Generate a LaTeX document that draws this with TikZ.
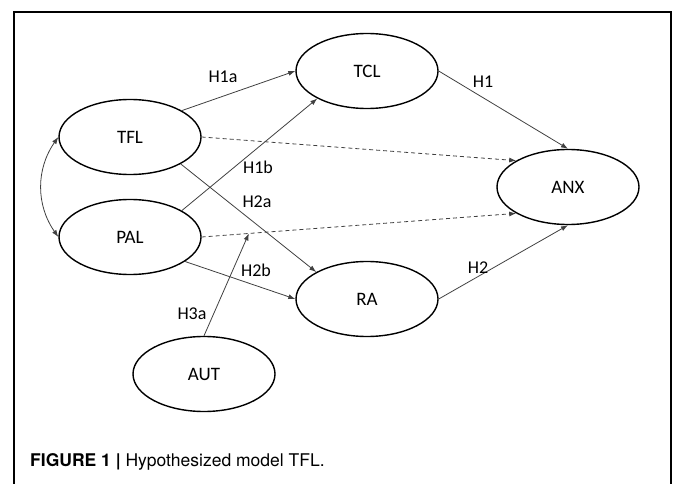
\documentclass[tikz,border=0pt]{standalone}
\usepackage{fontspec}
\setmainfont{Carlito}
\newfontfamily\capfont{TeX Gyre Heros}
\usetikzlibrary{arrows.meta, shapes.geometric}

\tikzset{
    latent/.style={ellipse, draw, line width=1.4pt, minimum width=142pt, minimum height=75pt,
        inner sep=0pt, font=\fontsize{19}{22}\selectfont},
    effect/.style={draw=black!75, line width=0.8pt, ->},
    hlabel/.style={inner sep=0pt, font=\fontsize{18}{21}\selectfont}
}

\begin{document}
\begin{tikzpicture}[x=1pt, y=-1pt, >={Latex[length=7pt,width=5pt]}]
    \useasboundingbox (0,0) rectangle (673,484);

    % Frame
    \draw[line width=1.3pt] (14,484) -- (14,12) -- (671,12) -- (671,484);

    % Draw latent variables
    \foreach \n/\x/\y in {TFL/130/137, PAL/130/237, TCL/367/71, ANX/568/187, RA/367/299, AUT/204/374}
        \node[latent] (\n) at (\x,\y) {\n};

    % Direct paths
    \draw[effect] (TFL.27) -- (TCL.west);
    \draw[effect] (PAL.27) -- (TCL.209);
    \draw[effect] (TFL.332) -- (RA.152);
    \draw[effect] (PAL.336) -- (RA.west);
    \draw[effect] (TCL.east) -- (ANX.north);
    \draw[effect] (RA.east) -- (ANX.south);

    % Direct paths to ANX (dashed)
    \draw[effect, dash pattern=on 4pt off 3pt] (TFL.east) -- (ANX.153);
    \draw[effect, dash pattern=on 4pt off 3pt] (PAL.east) -- (ANX.207);

    % Moderation by AUT
    \path (PAL.east) -- (ANX.207) coordinate[pos=0.15] (mod);
    \draw[effect] (AUT.north) -- (mod);

    % Covariance
    \draw[effect, <->] (TFL.west) to[bend right=35] (PAL.west);

    % Hypothesis labels
    \foreach \h/\x/\y in {H1a/223/77, H1/483/82, H1b/258/167, H2a/257/202, H2b/256/270, H3a/192/314, H2/478/268}
        \node[hlabel] (l\h) at (\x,\y) {\h};

    % Caption
    \node[anchor=west, inner sep=0pt, font=\capfont\fontsize{17.5}{21}\selectfont] (caption) at (30,462)
        {\textbf{FIGURE 1 |} Hypothesized model TFL.};
\end{tikzpicture}
\end{document}
